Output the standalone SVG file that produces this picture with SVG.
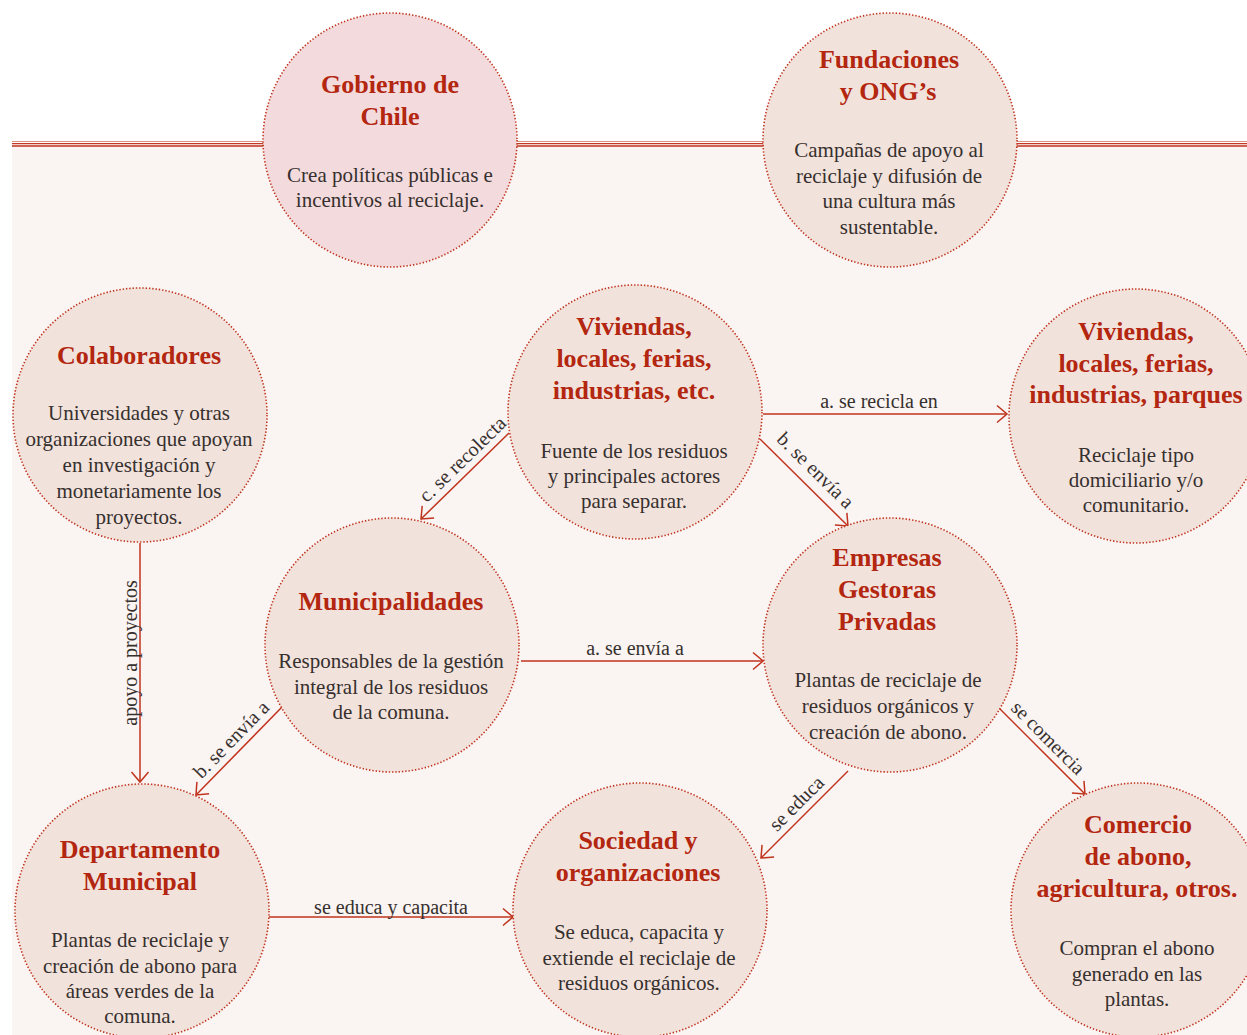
<svg xmlns="http://www.w3.org/2000/svg" width="1247" height="1035" viewBox="0 0 1247 1035">
  <style>
    .node { stroke: #c0341e; stroke-width: 1.6; stroke-dasharray: 1.4 1.9; fill: #f2e2dc; }
    .node.gov { fill: #f3dadc; }
    .title { font-family: "Liberation Serif", "DejaVu Serif", serif; font-weight: bold; font-size: 26px; fill: #b3260f; text-anchor: middle; }
    .body { font-family: "Liberation Serif", "DejaVu Serif", serif; font-size: 21px; fill: #36302e; text-anchor: middle; }
    .lbl { font-family: "Liberation Serif", "DejaVu Serif", serif; font-size: 20px; fill: #36302e; text-anchor: middle; }
    .edge { stroke: #c0341e; stroke-width: 1.5; fill: none; marker-end: url(#chev); }
  </style>
  <defs>
    <marker id="chev" markerUnits="userSpaceOnUse" viewBox="-12 -10 14 20" refX="0" refY="0" markerWidth="14" markerHeight="20" orient="auto" overflow="visible">
      <path d="M-10,-8.5 L0,0 L-10,8.5" fill="none" stroke="#c0341e" stroke-width="1.5"/>
    </marker>
  </defs>

  <!-- page background and header rules -->
  <rect x="0" y="0" width="1247" height="1035" fill="#ffffff"/>
  <rect x="12" y="147" width="1235" height="888" fill="#faf4f2"/>
  <g id="header-rule">
    <line x1="12" y1="141.5" x2="1247" y2="141.5" stroke="#dc9281" stroke-width="1.2"/>
    <line x1="12" y1="143.6" x2="1247" y2="143.6" stroke="#c33822" stroke-width="1.1"/>
    <line x1="12" y1="146" x2="1247" y2="146" stroke="#bf301b" stroke-width="1.3"/>
  </g>

  <!-- connectors -->
  <g id="connectors">
    <line class="edge" x1="763" y1="414" x2="1007" y2="414"/>
    <text class="lbl" x="879" y="408">a. se recicla en</text>

    <line class="edge" x1="760" y1="439" x2="848" y2="526"/>
    <text class="lbl" transform="translate(806,480) rotate(44.7)" x="0" y="-7">b. se envía a</text>

    <line class="edge" x1="509" y1="433" x2="421" y2="519"/>
    <text class="lbl" transform="translate(472,469) rotate(-44.3)" x="0" y="-7">c. se recolecta</text>

    <line class="edge" x1="140" y1="543" x2="140" y2="782"/>
    <text class="lbl" transform="translate(137,653) rotate(-90)" x="0" y="0">apoyo a proyectos</text>

    <line class="edge" x1="521" y1="661" x2="763" y2="661"/>
    <text class="lbl" x="635" y="655">a. se envía a</text>

    <line class="edge" x1="282" y1="707" x2="196" y2="795"/>
    <text class="lbl" transform="translate(241,749) rotate(-45.7)" x="0" y="-7">b. se envía a</text>

    <line class="edge" x1="269" y1="917" x2="513" y2="917"/>
    <text class="lbl" x="391" y="914">se educa y capacita</text>

    <line class="edge" x1="848" y1="771" x2="761" y2="858"/>
    <text class="lbl" transform="translate(806,813) rotate(-45)" x="0" y="-7">se educa</text>

    <line class="edge" x1="999" y1="708" x2="1085" y2="794"/>
    <text class="lbl" transform="translate(1038.5,747.5) rotate(45)" x="0" y="-7">se comercia</text>
  </g>

  <!-- nodes -->
  <g id="gobierno">
    <circle class="node gov" cx="390" cy="140" r="127"/>
    <text class="title" x="390" y="93">Gobierno de</text>
    <text class="title" x="390" y="125">Chile</text>
    <text class="body" x="390" y="182">Crea políticas públicas e</text>
    <text class="body" x="390" y="207">incentivos al reciclaje.</text>
  </g>

  <g id="fundaciones">
    <circle class="node" cx="890" cy="140" r="127"/>
    <text class="title" x="889" y="68">Fundaciones</text>
    <text class="title" x="888" y="100">y ONG’s</text>
    <text class="body" x="889" y="157">Campañas de apoyo al</text>
    <text class="body" x="889" y="183">reciclaje y difusión de</text>
    <text class="body" x="889" y="208">una cultura más</text>
    <text class="body" x="889" y="234">sustentable.</text>
  </g>

  <g id="colaboradores">
    <circle class="node" cx="140" cy="415" r="127"/>
    <text class="title" x="139" y="364">Colaboradores</text>
    <text class="body" x="139" y="420">Universidades y otras</text>
    <text class="body" x="139" y="446">organizaciones que apoyan</text>
    <text class="body" x="139" y="472">en investigación y</text>
    <text class="body" x="139" y="498">monetariamente los</text>
    <text class="body" x="139" y="524">proyectos.</text>
  </g>

  <g id="viviendas-origen">
    <circle class="node" cx="635" cy="412" r="127"/>
    <text class="title" x="634" y="335">Viviendas,</text>
    <text class="title" x="634" y="367">locales, ferias,</text>
    <text class="title" x="634" y="399">industrias, etc.</text>
    <text class="body" x="634" y="458">Fuente de los residuos</text>
    <text class="body" x="634" y="483">y principales actores</text>
    <text class="body" x="634" y="508">para separar.</text>
  </g>

  <g id="viviendas-reciclaje">
    <circle class="node" cx="1136" cy="416" r="127"/>
    <text class="title" x="1136" y="340">Viviendas,</text>
    <text class="title" x="1136" y="372">locales, ferias,</text>
    <text class="title" x="1136" y="403">industrias, parques</text>
    <text class="body" x="1136" y="462">Reciclaje tipo</text>
    <text class="body" x="1136" y="487">domiciliario y/o</text>
    <text class="body" x="1136" y="512">comunitario.</text>
  </g>

  <g id="municipalidades">
    <circle class="node" cx="392" cy="645" r="127"/>
    <text class="title" x="391" y="610">Municipalidades</text>
    <text class="body" x="391" y="668">Responsables de la gestión</text>
    <text class="body" x="391" y="694">integral de los residuos</text>
    <text class="body" x="391" y="719">de la comuna.</text>
  </g>

  <g id="empresas">
    <circle class="node" cx="890" cy="645" r="127"/>
    <text class="title" x="887" y="566">Empresas</text>
    <text class="title" x="887" y="598">Gestoras</text>
    <text class="title" x="887" y="630">Privadas</text>
    <text class="body" x="888" y="687">Plantas de reciclaje de</text>
    <text class="body" x="888" y="713">residuos orgánicos y</text>
    <text class="body" x="888" y="739">creación de abono.</text>
  </g>

  <g id="departamento">
    <circle class="node" cx="142" cy="911" r="127"/>
    <text class="title" x="140" y="858">Departamento</text>
    <text class="title" x="140" y="890">Municipal</text>
    <text class="body" x="140" y="947">Plantas de reciclaje y</text>
    <text class="body" x="140" y="973">creación de abono para</text>
    <text class="body" x="140" y="998">áreas verdes de la</text>
    <text class="body" x="140" y="1023">comuna.</text>
  </g>

  <g id="sociedad">
    <circle class="node" cx="640" cy="910" r="127"/>
    <text class="title" x="638" y="849">Sociedad y</text>
    <text class="title" x="638" y="881">organizaciones</text>
    <text class="body" x="639" y="939">Se educa, capacita y</text>
    <text class="body" x="639" y="965">extiende el reciclaje de</text>
    <text class="body" x="639" y="990">residuos orgánicos.</text>
  </g>

  <g id="comercio">
    <circle class="node" cx="1138" cy="910" r="127"/>
    <text class="title" x="1138" y="833">Comercio</text>
    <text class="title" x="1138" y="865">de abono,</text>
    <text class="title" x="1137" y="897">agricultura, otros.</text>
    <text class="body" x="1137" y="955">Compran el abono</text>
    <text class="body" x="1137" y="981">generado en las</text>
    <text class="body" x="1137" y="1006">plantas.</text>
  </g>
</svg>
